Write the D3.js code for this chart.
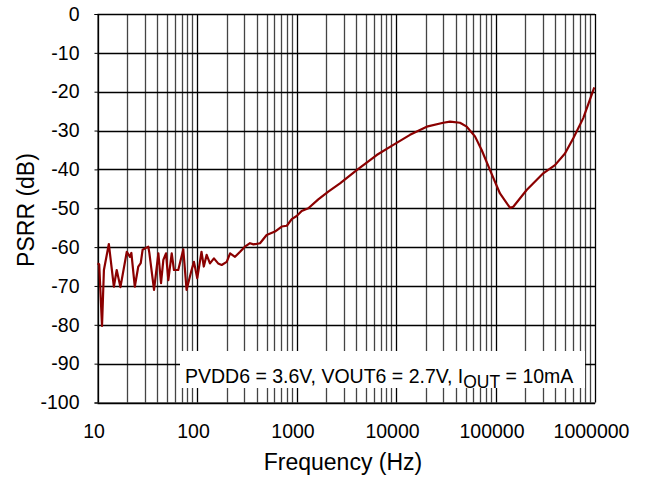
<!DOCTYPE html>
<html>
<head>
<meta charset="utf-8">
<script src="https://cdn.jsdelivr.net/npm/d3@7"></script>
<style>
    body { margin: 0; background: #fff; }
    svg { display: block; font-family: 'Liberation Sans', Arial, sans-serif; }
</style>
</head>
<body>
<svg class="chart" width="648" height="479"></svg>
<script>
    const freq = [10, 10.4, 11.1, 11.6, 13.0, 14.6, 15.6, 17.0, 19.7, 21.2,
        21.9, 23.7, 25.7, 27.2, 28.4, 30.7, 32.4, 33.2, 37.0, 40.9,
        43.5, 45.9, 48.8, 51.5, 55.7, 58.7, 64.8, 72.8, 78.6, 88.2,
        93.2, 100.6, 111, 117, 125, 135, 148, 163, 177, 199,
        215, 241, 271, 303, 341, 370, 430, 501, 608, 710,
        800, 895, 1004, 1127, 1315, 1656, 2087, 2737, 4027, 6397,
        9400, 13830, 20370, 29850, 34900, 43950, 51400, 62200, 72600, 88100,
        110900, 140000, 151000, 205600, 302000, 396000, 499000, 605000, 762000, 984000];

    const psrr = [-64.2, -64.4, -80.3, -65.9, -59.2, -70.2, -65.9, -70.3, -61.2, -62.5,
        -61.5, -70.2, -65.0, -64.1, -60.7, -60.2, -59.9, -61.5, -71.0, -61.6,
        -69.3, -63.3, -61.6, -68.5, -61.6, -65.9, -65.9, -60.6, -71.0, -65.9,
        -63.8, -68.0, -61.2, -65.0, -62.0, -64.2, -62.9, -64.2, -64.6, -63.8,
        -61.6, -62.5, -61.2, -59.9, -59.0, -59.3, -59.0, -56.9, -56.0, -54.7,
        -54.5, -52.8, -52.0, -50.7, -50.0, -47.7, -45.7, -43.6, -40.2, -36.3,
        -33.7, -31.1, -29.0, -28.0, -27.7, -28.0, -29.0, -31.5, -35.0, -40.2,
        -46.2, -49.9, -49.6, -45.3, -41.0, -38.9, -35.9, -32.0, -26.8, -18.9];

    const xTicks = [10, 100, 1000, 10000, 100000, 1000000];
    const yTicks = [0, -10, -20, -30, -40, -50, -60, -70, -80, -90, -100];

    const plotLeft = 97.5, plotRight = 595, plotTop = 14, plotBottom = 402.5;

    let svg = d3.select('.chart');

    let x = d3.scaleLog()
        .domain([10, 1000000])
        .range([plotLeft, plotRight]);

    let y = d3.scaleLinear()
        .domain([0, -100])
        .range([plotTop, plotBottom]);

    // minor frequencies 2..9 per decade
    let minor = [];
    xTicks.slice(0, -1).forEach(d => {
        for (let k = 2; k < 10; k++) {
            minor.push(d * k);
        }
    });

    let grid = svg.append('g');

    grid.selectAll('.minor')
        .data(minor)
        .enter()
        .append('line')
        .attr('class', 'minor')
        .attr('x1', d => Math.round(x(d)) + 0.5)
        .attr('x2', d => Math.round(x(d)) + 0.5)
        .attr('y1', plotTop)
        .attr('y2', plotBottom)
        .style('stroke', '#444')
        .style('stroke-width', 1.3);

    grid.selectAll('.major')
        .data(xTicks)
        .enter()
        .append('line')
        .attr('class', 'major')
        .attr('x1', d => Math.round(x(d)) + 0.5)
        .attr('x2', d => Math.round(x(d)) + 0.5)
        .attr('y1', plotTop)
        .attr('y2', plotBottom)
        .style('stroke', '#000')
        .style('stroke-width', 1.3);

    grid.selectAll('.hline')
        .data(yTicks)
        .enter()
        .append('line')
        .attr('class', 'hline')
        .attr('x1', plotLeft)
        .attr('x2', plotRight)
        .attr('y1', d => Math.round(y(d)) + 0.5)
        .attr('y2', d => Math.round(y(d)) + 0.5)
        .style('stroke', '#000')
        .style('stroke-width', 1.3);

    // axes: labels only, grid already draws the lines
    let xAxis = svg.append('g')
        .attr('transform', `translate(0, ${plotBottom})`)
        .call(d3.axisBottom(x).tickValues(xTicks).tickFormat(d => String(d)).tickSize(0).tickPadding(22));

    xAxis.selectAll('text').attr('dx', -4);

    let yAxis = svg.append('g')
        .attr('transform', `translate(${plotLeft}, 0)`)
        .call(d3.axisLeft(y).tickValues(yTicks).tickFormat(d => String(d)).tickSize(3).tickPadding(15));

    [xAxis, yAxis].forEach(a => {
        a.select('.domain').style('stroke', '#000');
        a.selectAll('text')
            .style('font-size', '19.5px')
            .style('font-family', "'Liberation Sans', Arial, sans-serif")
            .style('fill', '#000');
    });

    let line = d3.line()
        .x((d, i) => x(freq[i]))
        .y(d => y(d));

    svg.append('path')
        .datum(psrr)
        .attr('d', line)
        .style('fill', 'none')
        .style('stroke', '#8b0000')
        .style('stroke-width', 2.2)
        .style('stroke-linejoin', 'round');

    // note box over the grid
    svg.append('rect')
        .attr('x', 180)
        .attr('y', 351)
        .attr('width', 405)
        .attr('height', 37)
        .style('fill', '#fff');

    let note = svg.append('text')
        .attr('x', 185)
        .attr('y', 383)
        .style('font-size', '19.5px')
        .style('fill', '#000');

    note.append('tspan').text('PVDD6 = 3.6V, VOUT6 = 2.7V, I');
    note.append('tspan').attr('dy', 5).style('font-size', '17.5px').text('OUT');
    note.append('tspan').attr('dy', -5).text(' = 10mA');

    svg.append('text')
        .attr('x', 343)
        .attr('y', 470)
        .attr('text-anchor', 'middle')
        .style('font-size', '23px')
        .text('Frequency (Hz)');

    svg.append('text')
        .attr('transform', 'translate(34, 210) rotate(-90)')
        .attr('text-anchor', 'middle')
        .style('font-size', '23px')
        .text('PSRR (dB)');
</script>
</body>
</html>
